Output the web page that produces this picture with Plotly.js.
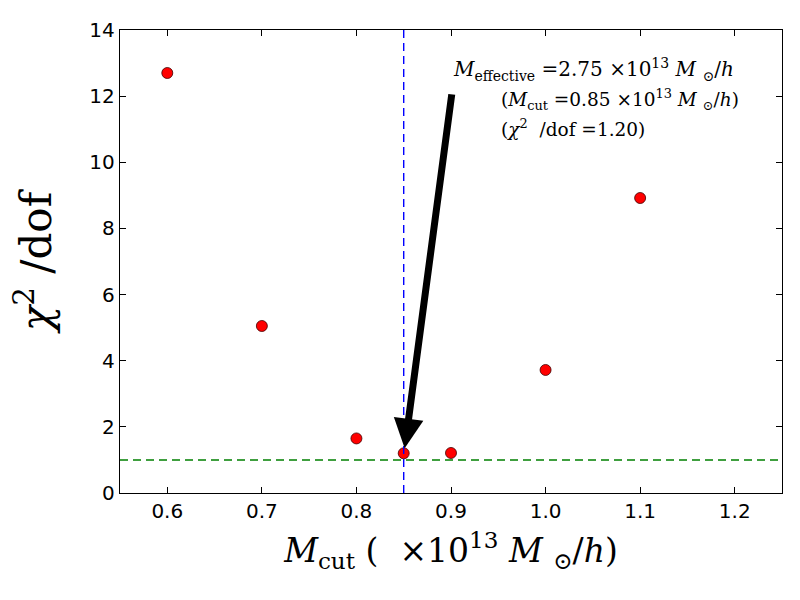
<!DOCTYPE html>
<html>
<head>
<meta charset="utf-8">
<script src="https://cdn.plot.ly/plotly-3.0.1.min.js"></script>
<style>html,body{margin:0;padding:0;background:#fff;}#chart{width:800px;height:600px;}</style>
</head>
<body>
<div id="chart"></div>
<script>
const mcut = [0.6, 0.7, 0.8, 0.85, 0.9, 1.0, 1.1];
const chi2dof = [12.7, 5.05, 1.65, 1.20, 1.21, 3.72, 8.92];
const xTicks = [0.6, 0.7, 0.8, 0.9, 1.0, 1.1, 1.2];
const yTicks = [0, 2, 4, 6, 8, 10, 12, 14];
const bestMcut = 0.85;
const refLevel = 1.0;

const serif = "DejaVu Serif, Liberation Serif, serif";
const sans = "DejaVu Sans, sans-serif";

const data = [{
  x: mcut, y: chi2dof, type: 'scatter', mode: 'markers',
  marker: {color: '#ff0000', size: 11, line: {color: '#400000', width: 0.8}},
  hoverinfo: 'none', cliponaxis: false
}];

const layout = {
  width: 800, height: 600,
  margin: {l: 120, r: 18, t: 30, b: 107},
  paper_bgcolor: '#fff', plot_bgcolor: '#fff',
  showlegend: false,
  xaxis: {
    range: [0.55, 1.25], tickvals: xTicks, ticktext: xTicks.map(v => v.toFixed(1)),
    ticks: 'inside', ticklen: 6, tickcolor: '#000', mirror: 'ticks',
    showline: true, linecolor: '#000', linewidth: 1.2, showgrid: false, zeroline: false,
    tickfont: {family: sans, size: 20, color: '#000'},
    title: {text: '<i>M</i><sub>cut</sub> (  ×10<sup>13</sup> <i>M</i> <sub>⊙</sub>/<i>h</i>)', font: {family: serif, size: 33, color: '#000'}, standoff: 16}
  },
  yaxis: {
    range: [0, 14], tickvals: yTicks,
    ticks: 'inside', ticklen: 6, tickcolor: '#000', mirror: 'ticks',
    showline: true, linecolor: '#000', linewidth: 1.2, showgrid: false, zeroline: false,
    tickfont: {family: sans, size: 20, color: '#000'},
    title: {text: '<i>χ</i><sup>2</sup> /dof', font: {family: serif, size: 42, color: '#000'}, standoff: 24}
  },
  shapes: [
    {type: 'line', xref: 'x', yref: 'paper', x0: bestMcut, x1: bestMcut, y0: 0, y1: 1,
     line: {color: '#0000ff', width: 1.4, dash: '8px,5px'}},
    {type: 'line', xref: 'paper', yref: 'y', x0: 0, x1: 1, y0: refLevel, y1: refLevel,
     line: {color: '#008000', width: 1.4, dash: '8px,5px'}}
  ],
  annotations: [
    {xref: 'x', yref: 'y', axref: 'x', ayref: 'y', x: 0.851, y: 1.35, ax: 0.901, ay: 12.1,
     text: '', showarrow: true, arrowhead: 2, arrowsize: 0.85, arrowwidth: 7, arrowcolor: '#000', standoff: 0},
    {xref: 'paper', yref: 'paper', x: 0.5, y: 0.914, xanchor: 'left', yanchor: 'middle', showarrow: false,
     text: '<i>M</i><sub>effective</sub> =2.75 ×10<sup>13</sup> <i>M</i> <sub>⊙</sub>/<i>h</i>',
     font: {family: serif, size: 20, color: '#000'}},
    {xref: 'paper', yref: 'paper', x: 0.572, y: 0.85, xanchor: 'left', yanchor: 'middle', showarrow: false,
     text: '(<i>M</i><sub>cut</sub> =0.85 ×10<sup>13</sup> <i>M</i> <sub>⊙</sub>/<i>h</i>)',
     font: {family: serif, size: 18.5, color: '#000'}},
    {xref: 'paper', yref: 'paper', x: 0.572, y: 0.788, xanchor: 'left', yanchor: 'middle', showarrow: false,
     text: '(<i>χ</i><sup>2</sup>  /dof =1.20)',
     font: {family: serif, size: 18.5, color: '#000'}}
  ]
};

Plotly.newPlot('chart', data, layout, {displayModeBar: false, staticPlot: true});
</script>
</body>
</html>
